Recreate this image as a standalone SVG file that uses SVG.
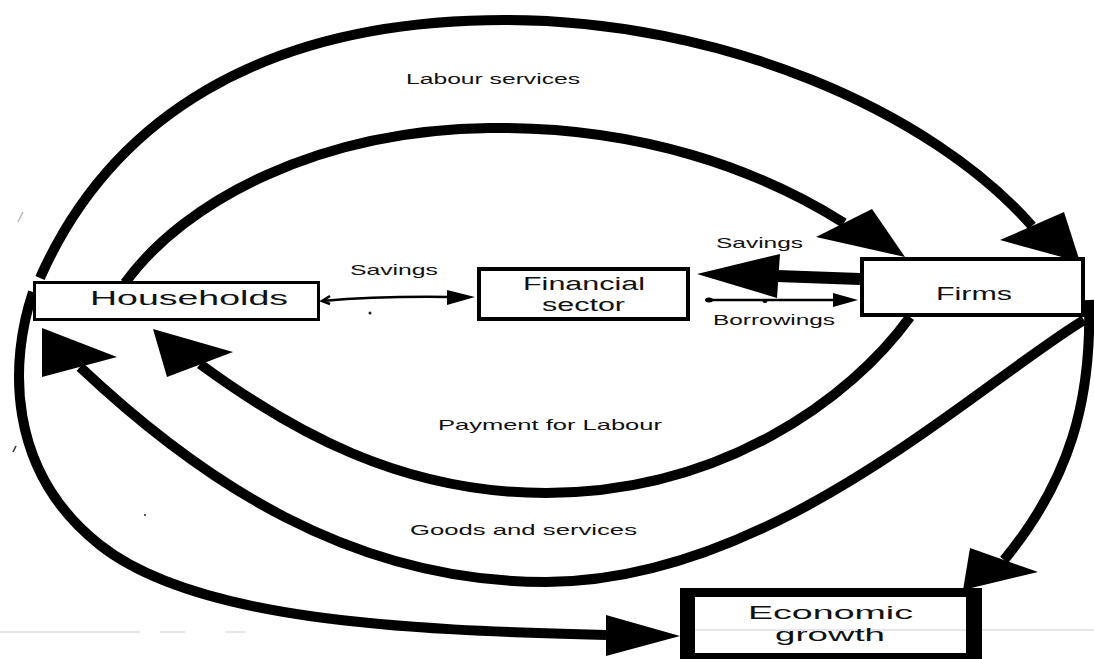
<svg xmlns="http://www.w3.org/2000/svg" width="1094" height="659" viewBox="0 0 1094 659">
  <style>
    .flow { fill: none; stroke: #000; stroke-width: 10; }
    .thin { fill: none; stroke: #000; stroke-width: 2.5; }
    .head { fill: #000; stroke: none; }
    .box { fill: #fff; stroke: #000; }
    .lbl { font-family: "Liberation Sans", Arial, Helvetica, sans-serif; fill: #111; }
    .speck { fill: #222; }
    .rule { stroke: #dcdce4; stroke-width: 1.5; }
  </style>
  <rect width="1094" height="659" fill="#fff"/>

  <!-- faint ruled line behind the drawing -->
  <g id="background">
    <line class="rule" x1="0" y1="632" x2="140" y2="632"/>
    <line class="rule" x1="160" y1="632" x2="185" y2="632"/>
    <line class="rule" x1="225" y1="632" x2="245" y2="632"/>
    <line class="rule" x1="695" y1="630" x2="1094" y2="630"/>
    <circle class="speck" cx="370" cy="313" r="1.5"/>
    <circle class="speck" cx="492" cy="576" r="1.5"/>
    <circle class="speck" cx="145" cy="515" r="1" fill="#aaa"/>
    <path d="M13,452 L16,446" stroke="#333" stroke-width="1.5"/>
    <path d="M18,222 L23,212" stroke="#bbb" stroke-width="1.5"/>
  </g>

  <g id="connectors">
    <!-- Labour services: households to firms, outer arc -->
    <path class="flow" d="M40,278 C110,120 260,20 505,20 C720,20 930,110 1032,226"/>
    <polygon class="head" points="1080,262 1000,240 1064,212"/>

    <!-- inner arc: households to firms -->
    <path class="flow" d="M125,283 C185,200 320,130 490,128 C640,126 760,170 844,223"/>
    <polygon class="head" points="905,257 816,237 872,209"/>

    <!-- Payment for Labour: firms to households -->
    <path class="flow" d="M910,317 C850,400 720,493 546,493 C400,493 290,430 200,364"/>
    <polygon class="head" points="153,329 233,352 167,377"/>

    <!-- Goods and services: firms to households -->
    <path class="flow" d="M1084,320 C970,390 770,582 546,582 C350,582 200,480 80,367"/>
    <polygon class="head" points="42,328 117,357 42,377"/>

    <!-- households to economic growth -->
    <path class="flow" d="M33,292 C10,360 5,470 100,545 C195,620 400,630 606,635"/>
    <polygon class="head" points="680,636 606,615 606,656"/>

    <!-- firms to economic growth -->
    <path class="flow" d="M1089,300 C1092,400 1070,480 1004,560"/>
    <polygon class="head" points="963,590 970,548 1038,572"/>

    <!-- Savings: households to financial sector -->
    <path class="thin" d="M330,296 L322,301 L330,304 M322,301 Q380,296 450,297"/>
    <polygon class="head" points="475,297 447,290 447,305"/>

    <!-- Savings: firms to financial sector -->
    <path d="M777,276 L860,279" stroke="#000" stroke-width="12"/>
    <polygon class="head" points="697,274 780,254 777,298"/>

    <!-- Borrowings: financial sector to firms -->
    <path class="thin" d="M706,300 L835,300"/>
    <ellipse cx="709" cy="300" rx="4" ry="2.5" fill="#000"/>
    <ellipse cx="765" cy="301" rx="2.5" ry="2" fill="#000"/>
    <polygon class="head" points="858,300 833,293 833,307"/>
  </g>

  <g id="labels">
    <text class="lbl" x="406" y="84" font-size="14" textLength="174" lengthAdjust="spacingAndGlyphs">Labour services</text>
    <text class="lbl" x="350" y="275" font-size="15" textLength="88" lengthAdjust="spacingAndGlyphs">Savings</text>
    <text class="lbl" x="716" y="248" font-size="15" textLength="87" lengthAdjust="spacingAndGlyphs">Savings</text>
    <text class="lbl" x="713" y="325" font-size="15" textLength="122" lengthAdjust="spacingAndGlyphs">Borrowings</text>
    <text class="lbl" x="438" y="430" font-size="15" textLength="224" lengthAdjust="spacingAndGlyphs">Payment for Labour</text>
    <text class="lbl" x="410" y="535" font-size="15" textLength="227" lengthAdjust="spacingAndGlyphs">Goods and services</text>
  </g>

  <g id="households">
    <rect class="box" x="34.5" y="282.5" width="284" height="37" stroke-width="3"/>
    <text class="lbl" x="90" y="305" font-size="21" textLength="198" lengthAdjust="spacingAndGlyphs">Households</text>
  </g>

  <g id="financial-sector">
    <rect class="box" x="479" y="269" width="209" height="50" stroke-width="4"/>
    <text class="lbl" x="523" y="290" font-size="18" textLength="122" lengthAdjust="spacingAndGlyphs">Financial</text>
    <text class="lbl" x="542" y="311" font-size="18" textLength="83" lengthAdjust="spacingAndGlyphs">sector</text>
  </g>

  <g id="firms">
    <rect class="box" x="862" y="259" width="221" height="56" stroke-width="4"/>
    <text class="lbl" x="936" y="300" font-size="18" textLength="76" lengthAdjust="spacingAndGlyphs">Firms</text>
  </g>

  <g id="economic-growth">
    <rect x="680" y="588" width="302" height="80" fill="#000"/>
    <rect x="695" y="597" width="271" height="56" fill="#fff"/>
    <line class="rule" x1="695" y1="630" x2="966" y2="630"/>
    <text class="lbl" x="748" y="619" font-size="19" textLength="165" lengthAdjust="spacingAndGlyphs">Economic</text>
    <text class="lbl" x="775" y="641" font-size="19" textLength="110" lengthAdjust="spacingAndGlyphs">growth</text>
  </g>
</svg>
